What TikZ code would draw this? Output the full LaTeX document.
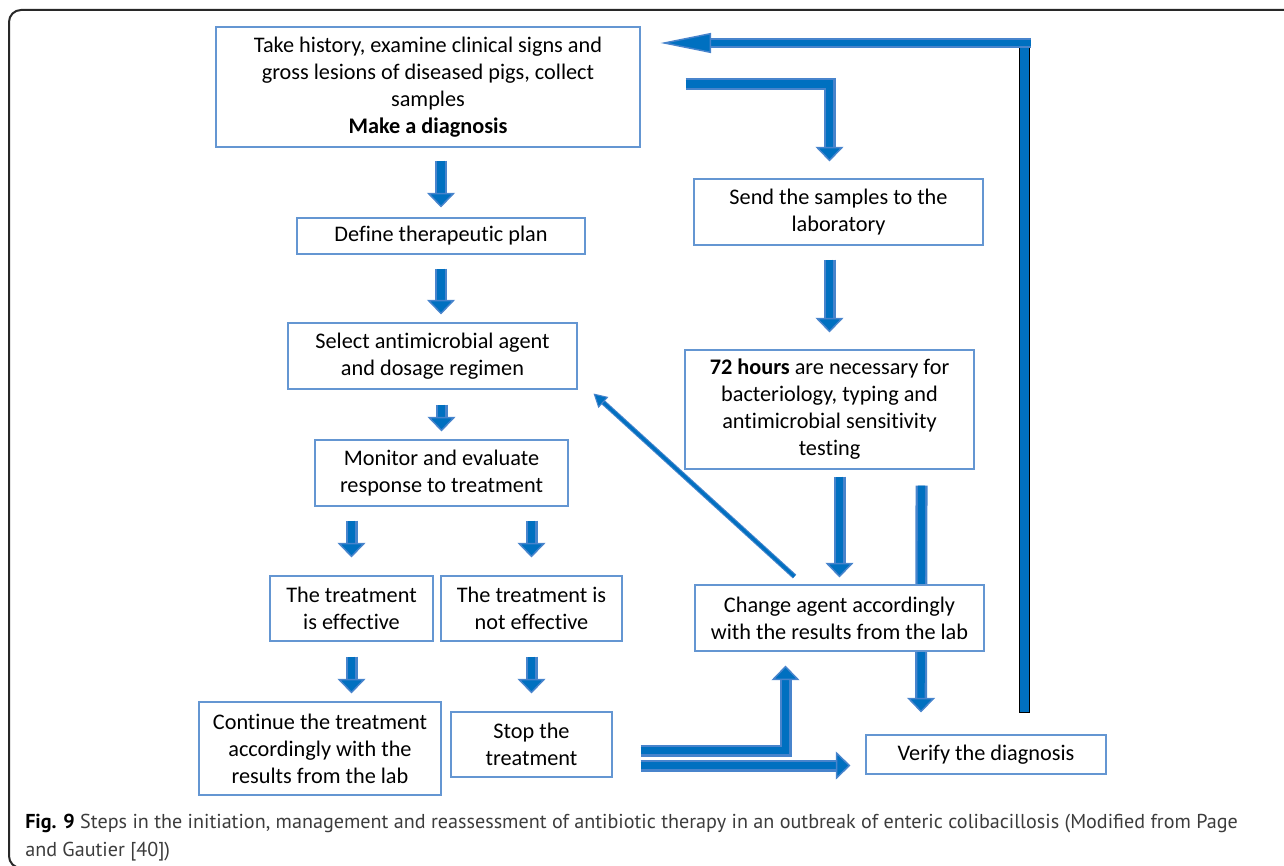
\documentclass[tikz,border=0pt]{standalone}
\usepackage{fontspec}
\setmainfont{Carlito}[Ligatures=NoCommon]
\newfontfamily\capfont{PT Sans}
\usetikzlibrary{arrows.meta,calc,backgrounds}
\definecolor{arrfill}{RGB}{0,112,192}
\definecolor{arredge}{RGB}{72,132,204}
\definecolor{boxline}{RGB}{100,150,210}
\definecolor{capgray}{RGB}{60,60,60}
\definecolor{framecol}{RGB}{40,40,40}
\tikzset{
 box/.style={draw=boxline, line width=0.8pt, fill=white, align=center, inner sep=0pt,
   font=\fontsize{16.7}{20.25}\selectfont, text=black},
 barrow/.style={line width=5.5pt, draw=arrfill, line cap=butt, line join=miter,
   -{Triangle[width=21pt,length=11pt,color=arredge,fill=arrfill,line width=1.1pt]},
   preaction={draw=arredge,line width=9pt,arrows=-,shorten >=8pt}},
 tarrow/.style={line width=2.2pt, draw=arrfill,
   -{Triangle[width=11pt,length=10pt,color=arredge,fill=arrfill,line width=0.8pt]},
   preaction={draw=arredge,line width=3.8pt,arrows=-,shorten >=6pt}},
 retarrow/.style={line width=5pt, draw=arrfill, line cap=butt,
   -{Triangle[width=15pt,length=38pt,color=arredge,fill=arrfill,line width=1.1pt]},
   preaction={draw=arredge,line width=7.5pt,arrows=-,shorten >=20pt}},
}
\begin{document}
\begin{tikzpicture}[x=0.75pt,y=-0.75pt]
\useasboundingbox (0,0) rectangle (1284,866);
% frame
\draw[framecol, line width=1.5pt, rounded corners=9pt] (1300,10) -- (9,10) -- (9,868) -- (1300,868);

% nodes
\node[box, minimum width=318pt, minimum height=90pt] (diag) at (428,87)
  {Take history, examine clinical signs and\\gross lesions of diseased pigs, collect\\samples\\\textbf{Make a diagnosis}};
\node[box, minimum width=216pt, minimum height=27pt] (plan) at (441,236) {Define therapeutic plan};
\node[box, minimum width=216.75pt, minimum height=49.5pt] (select) at (432.5,356) {Select antimicrobial agent\\and dosage regimen};
\node[box, minimum width=189.75pt, minimum height=49.5pt] (monitor) at (441.5,473) {Monitor and evaluate\\response to treatment};
\node[box, minimum width=122.25pt, minimum height=48.75pt] (eff) at (351.5,608.5) {The treatment\\is effective};
\node[box, minimum width=135.75pt, minimum height=48.75pt] (noteff) at (531.5,608.5) {The treatment is\\not effective};
\node[box, minimum width=181.5pt, minimum height=69.75pt] (cont) at (320,748.5) {Continue the treatment\\accordingly with the\\results from the lab};
\node[box, minimum width=120.75pt, minimum height=48.75pt] (stop) at (531.5,744.5) {Stop the\\treatment};
\node[box, minimum width=216.75pt, minimum height=49.5pt] (send) at (838.5,212) {Send the samples to the\\laboratory};
\node[box, minimum width=216.75pt, minimum height=89.25pt] (hours) at (829.5,409.5)
  {\textbf{72 hours} are necessary for\\bacteriology, typing and\\antimicrobial sensitivity\\testing};
\node[box, minimum width=216.75pt, minimum height=49.5pt] (change) at (839.5,618) {Change agent accordingly\\with the results from the lab};
\node[box, minimum width=180pt, minimum height=29.25pt] (verify) at (986,754.5) {Verify the diagnosis};

% caption
\node[anchor=base west, align=left, inner sep=0pt, text=capgray,
  font=\capfont\fontsize{15.1}{21}\selectfont] (cap) at (25,856)
  {{\color{black}\bfseries Fig. 9} Steps in the initiation, management and reassessment of antibiotic therapy in an outbreak of enteric colibacillosis (Modified from Page\\and Gautier [40])};

\begin{pgfonlayer}{background}
% left column
\draw[barrow] ($(plan.north |- diag.south)+(0,13)$) -- ($(plan.north)+(0,-10)$);
\draw[barrow] ($(plan.south)+(0,14)$) -- ($(plan.south |- select.north)+(0,-8)$);
\draw[barrow] ($(monitor.north |- select.south)+(0,15)$) -- ($(monitor.north)+(0,-8)$);
\draw[barrow] ($(eff.north |- monitor.south)+(0,14)$) -- ($(eff.north)+(0,-18)$);
\draw[barrow] ($(noteff.north |- monitor.south)+(0,14)$) -- ($(noteff.north)+(0,-18)$);
\draw[barrow] ($(eff.south)+(0,15)$) -- ($(eff.south |- cont.north)+(0,-8)$);
\draw[barrow] ($(noteff.south)+(0,15)$) -- ($(stop.north)+(0,-18)$);
% right column
\coordinate (a8s) at ($(diag.east)+(45,-3)$);
\coordinate (a8e) at ($(send.north)+(-9,-17)$);
\draw[barrow] (a8s) -| (a8e);
\draw[barrow] ($(hours.north |- send.south)+(0,14)$) -- ($(hours.north)+(0,-17)$);
\draw[barrow] ($(change.north |- hours.south)+(0,7)$) -- ($(change.north)+(0,-7)$);
\draw[barrow] ($(hours.south east)+(-53,16)$) -- ($(verify.north)+(-65,-22)$);
% bottom
\coordinate (a12s) at ($(stop.east)+(28,6)$);
\coordinate (a12e) at ($(change.south)+(-54,14)$);
\draw[barrow] (a12s) -| (a12e);
\draw[barrow] ($(stop.east)+(28,21)$) -- ($(verify.west)+(-15,11)$);
% diagonal
\draw[tarrow] ($(change.north west)+(100,-8)$) -- ($(select.south east)+(16,4)$);
% return
\coordinate (rtip) at ($(diag.east)+(20,-44)$);
\coordinate (rbot) at ($(verify.east)+(-82,-42)$);
\coordinate (rcorner) at (rbot |- rtip);
\draw[draw=black, line width=1pt, fill=arrfill] ($(rcorner)+(-5,-1)$) rectangle ($(rbot)+(5,0)$);
\draw[retarrow] ($(rcorner)+(6,0)$) -- (rtip);
\end{pgfonlayer}
\end{tikzpicture}
\end{document}
